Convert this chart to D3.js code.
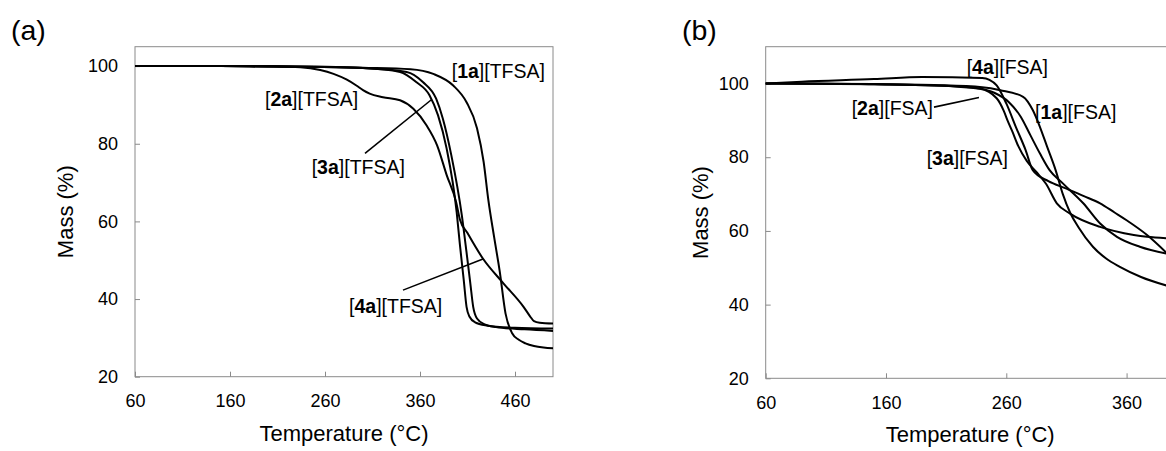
<!DOCTYPE html>
<html>
<head>
<meta charset="utf-8">
<script src="https://cdn.jsdelivr.net/npm/d3@7"></script>
<style>
  body { margin: 0; background: #fff; }
  text { font-family: 'Liberation Sans', Arial, sans-serif; fill: #000; }
</style>
</head>
<body>
<div id="chart"></div>
<script>
// TGA curves, [temperature (°C), mass (%)]
const tfsa1a = [[60, 100], [150, 100], [200, 100], [250, 99.9], [300, 99.6], [350, 99.2], [374, 98], [395, 95], [409, 90.7], [420, 84], [427, 75.3], [432, 65.4], [438, 56], [444, 47], [450, 36.3], [457, 31.2], [464, 29.5], [471, 28.6], [480, 27.9], [490, 27.5], [500, 27.3]]
const tfsa2a = [[60, 100], [150, 100], [200, 99.9], [250, 99.8], [300, 99.5], [346, 98.5], [363, 95.9], [377, 91.6], [384, 86.5], [393, 77], [404, 61.6], [409, 52], [413, 44], [416, 38], [420, 35], [428, 33.5], [440, 32.8], [470, 32.2], [500, 31.8]]
const tfsa3a = [[60, 100], [150, 100], [200, 99.9], [250, 99.8], [300, 99.5], [339, 98.5], [356, 95.9], [370, 92.5], [379, 87.3], [388, 78.8], [398.6, 62.4], [402, 54], [406, 45], [409, 38], [412, 35.5], [418, 34], [430, 33.2], [460, 32.6], [500, 32.4]]
const tfsa4a = [[60, 100], [150, 100], [200, 99.9], [234, 99.7], [255, 99], [269, 98], [283, 96.5], [293, 95], [300, 93.8], [307, 92.9], [321, 92], [339, 91.2], [353, 89], [367, 84.7], [378, 79.6], [388, 72], [398, 65], [402, 60.5], [410, 57], [426, 50.5], [448, 44], [469, 38], [476, 35.5], [480, 34.3], [486, 33.9], [500, 33.7]]

const fsa1a = [[60, 100], [150, 99.9], [200, 99.6], [240, 99], [255, 98.2], [274, 96.4], [282, 92.8], [288, 88.2], [294, 82.8], [301, 76.5], [307, 70], [313, 65], [320, 61], [332, 55.7], [343, 52.5], [354, 50.3], [372, 47.5], [395, 45]]
const fsa2a = [[60, 100], [150, 99.8], [200, 99.5], [235, 98.8], [250, 97.5], [262, 95], [272, 91], [280, 86], [288, 81], [296, 76.5], [307, 72.9], [324, 67.5], [338, 62], [352, 58.4], [371, 55.7], [395, 53.7]]
const fsa3a = [[60, 100], [100, 100], [150, 99.8], [200, 99.5], [238, 98.6], [252, 96], [258, 92.5], [261, 90], [265, 87], [270, 83], [277, 79], [285, 76], [293, 72.8], [302, 67.5], [313, 64.7], [338, 61.1], [366, 58.9], [377, 58.4], [395, 58]]
const fsa4a = [[60, 100], [90, 100.5], [150, 101.2], [190, 101.8], [240, 101.5], [246, 101], [252, 99.5], [260, 94.6], [268, 88.2], [276, 82], [282, 76.5], [295, 73.5], [310, 71.5], [324, 69.5], [338, 67.5], [350, 65], [360, 62.9], [377, 58.9], [395, 53.5]]

// axes
const xTicksA = [60, 160, 260, 360, 460]
const xTicksB = [60, 160, 260, 360]
const yTicks = [20, 40, 60, 80, 100]

// curve labels: cation, anion, and where they sit in data units
const labelsA = [
  { cation: '1a', anion: 'TFSA', t: 393.4, m: 97.0 },
  { cation: '2a', anion: 'TFSA', t: 196.8, m: 89.6 },
  { cation: '3a', anion: 'TFSA', t: 246, m: 72.3 },
  { cation: '4a', anion: 'TFSA', t: 285.3, m: 36.5 },
]
const leadersA = [
  [[302.1, 77.5], [372.3, 91.4]],
  [[342.1, 42.3], [426.3, 50.3]],
]
const labelsB = [
  { cation: '4a', anion: 'FSA', t: 227.1, m: 102.7 },
  { cation: '1a', anion: 'FSA', t: 283.9, m: 90.5 },
  { cation: '3a', anion: 'FSA', t: 193.8, m: 77.8 },
  { cation: '2a', anion: 'FSA', t: 131.5, m: 91.4 },
]
const leadersB = [
  [[199.9, 93.6], [237.3, 96.2]],
]

const svg = d3
  .select('#chart')
  .append('svg')
  .attr('width', 1166)
  .attr('height', 451)

const panels = [
  {
    tag: '(a)', tagX: 11, left: 135, top: 46.7, width: 418, height: 330,
    xDomain: [60, 500], yDomain: [20, 105], xTicks: xTicksA,
    series: [tfsa1a, tfsa2a, tfsa3a, tfsa4a], labels: labelsA, leaders: leadersA, yTitleX: -62,
  },
  {
    tag: '(b)', tagX: 682, left: 765.7, top: 46.7, width: 409, height: 331.6,
    xDomain: [60, 400], yDomain: [20, 110], xTicks: xTicksB,
    series: [fsa1a, fsa2a, fsa3a, fsa4a], labels: labelsB, leaders: leadersB, yTitleX: -57.5,
  },
]

panels.forEach((p) => {
  svg.append('text').attr('x', p.tagX).attr('y', 40).attr('font-size', 28.5).text(p.tag)

  const g = svg.append('g').attr('transform', `translate(${p.left},${p.top})`)
  const x = d3.scaleLinear().domain(p.xDomain).range([0, p.width])
  const y = d3.scaleLinear().domain(p.yDomain).range([p.height, 0])

  // plot frame
  g.append('rect')
    .attr('width', p.width)
    .attr('height', p.height)
    .attr('fill', 'none')
    .attr('stroke', '#8a8a8a')
    .attr('stroke-width', 1)

  // ticks point inward
  const xAxis = g.append('g')
    .attr('transform', `translate(0,${p.height})`)
    .call(d3.axisBottom(x).tickValues(p.xTicks).tickSizeInner(-5).tickSizeOuter(0).tickPadding(18))
  const yAxis = g.append('g')
    .call(d3.axisLeft(y).tickValues(yTicks).tickSizeInner(-5).tickSizeOuter(0).tickPadding(17))

  ;[xAxis, yAxis].forEach((a) => {
    a.select('.domain').remove()
    a.selectAll('line').attr('stroke', '#8a8a8a')
    a.selectAll('text').attr('font-size', 18).attr('font-family', null).attr('fill', '#000')
  })

  // axis titles
  g.append('text')
    .attr('x', p.width / 2)
    .attr('y', p.height + 64)
    .attr('text-anchor', 'middle')
    .attr('font-size', 22)
    .text('Temperature (°C)')
  g.append('text')
    .attr('transform', `translate(${p.yTitleX},${p.height / 2}) rotate(-90)`)
    .attr('text-anchor', 'middle')
    .attr('font-size', 22)
    .text('Mass (%)')

  // curves
  const line = d3.line()
    .x((d) => x(d[0]))
    .y((d) => y(d[1]))
    .curve(d3.curveMonotoneX)

  g.selectAll('.curve')
    .data(p.series)
    .join('path')
    .attr('class', 'curve')
    .attr('d', line)
    .attr('fill', 'none')
    .attr('stroke', '#000')
    .attr('stroke-width', 2)

  // leader lines
  g.selectAll('.leader')
    .data(p.leaders)
    .join('line')
    .attr('class', 'leader')
    .attr('x1', (d) => x(d[0][0]))
    .attr('y1', (d) => y(d[0][1]))
    .attr('x2', (d) => x(d[1][0]))
    .attr('y2', (d) => y(d[1][1]))
    .attr('stroke', '#000')
    .attr('stroke-width', 1.6)

  // labels with bold cation code
  const lab = g.selectAll('.lab')
    .data(p.labels)
    .join('text')
    .attr('class', 'lab')
    .attr('x', (d) => x(d.t))
    .attr('y', (d) => y(d.m))
    .attr('font-size', 19.5)
  lab.append('tspan').text('[')
  lab.append('tspan').attr('font-weight', 'bold').text((d) => d.cation)
  lab.append('tspan').text((d) => `][${d.anion}]`)
})
</script>
</body>
</html>
